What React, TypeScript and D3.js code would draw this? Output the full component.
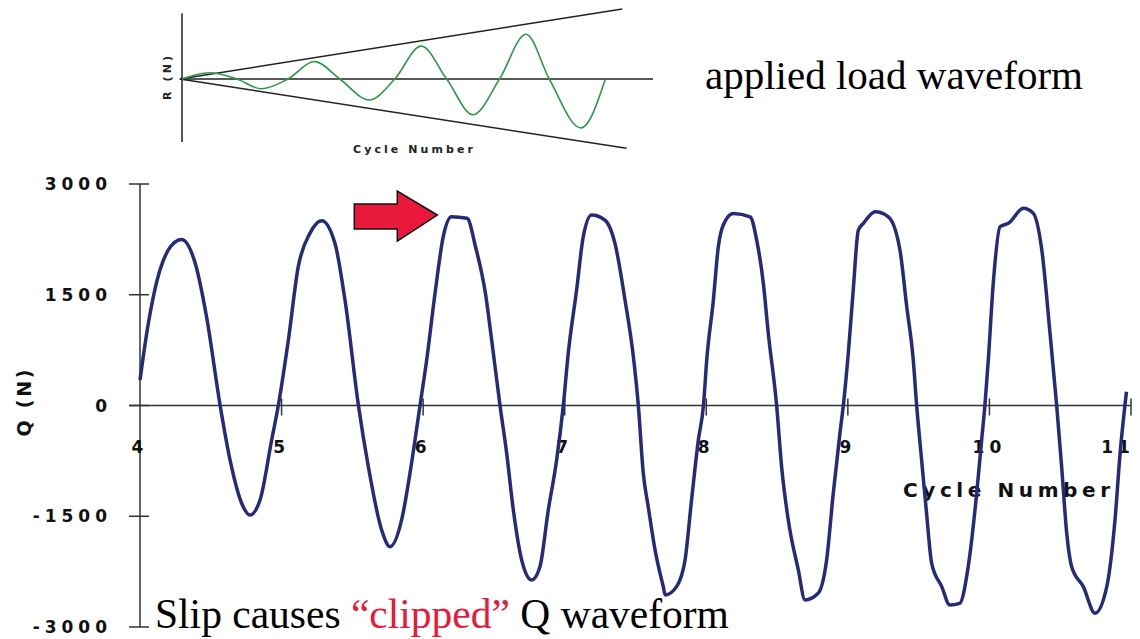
import React from "react";
import { scaleLinear, line, curveMonotoneX } from "d3";

// main Q waveform (cycle number, Q in N)
const cycles = [
    4.0, 4.059, 4.141, 4.27, 4.295, 4.39, 4.47, 4.566, 4.636, 4.718, 4.777, 4.848, 4.93, 4.977,
    5.048, 5.118, 5.2, 5.283, 5.377, 5.448, 5.543, 5.613, 5.707, 5.766, 5.848, 5.907, 5.978,
    6.025, 6.084, 6.142, 6.2, 6.31, 6.37, 6.44, 6.484, 6.543, 6.59, 6.637, 6.696, 6.767, 6.825, 6.884, 6.943, 6.99,
    7.025, 7.084, 7.131, 7.19, 7.284, 7.355, 7.426, 7.485, 7.52, 7.555, 7.59, 7.638, 7.696, 7.71, 7.79, 7.85, 7.896, 7.944, 7.98,
    8.003, 8.05, 8.085, 8.12, 8.19, 8.31, 8.356, 8.403, 8.438, 8.497, 8.532, 8.579, 8.65, 8.697, 8.79, 8.85, 8.897, 8.944, 8.968,
    9.003, 9.038, 9.074, 9.11, 9.193, 9.286, 9.368, 9.416, 9.462, 9.486, 9.521, 9.556, 9.592, 9.663, 9.72, 9.79, 9.85, 9.91, 9.945, 9.968,
    9.992, 10.027, 10.075, 10.134, 10.24, 10.31, 10.37, 10.428, 10.475, 10.51, 10.546, 10.581, 10.663, 10.746, 10.829, 10.887, 10.923, 10.957, 10.968
]
const qValues = [
    345, 1113, 1835, 2240, 2250, 1925, 1202, 0, -738, -1324, -1483, -1280, -467, 0,
    887, 1880, 2331, 2502, 2196, 1428, 0, -829, -1686, -1912, -1550, -918, 0,
    616, 1519, 2286, 2556, 2535, 2150, 1519, 887, 0, -647, -1415, -2092, -2363, -2183, -1415, -738, 0,
    707, 1564, 2286, 2580, 2512, 2196, 1428, 660, 0, -918, -1370, -1956, -2453, -2566, -2453, -2092, -1280, -467, 0,
    616, 1428, 2150, 2444, 2602, 2556, 2241, 1655, 977, 0, -829, -1550, -2227, -2633, -2543, -2092, -1189, -376, 0,
    707, 1564, 2376, 2467, 2624, 2556, 2106, 1338, 616, 0, -738, -1460, -2137, -2453, -2701, -2679, -2183, -1189, -467, 0,
    616, 1655, 2421, 2467, 2670, 2602, 2106, 977, 0, -829, -1730, -2183, -2453, -2813, -2453, -1550, -647, 0, 187
]

const yTicks = [3000, 1500, 0, -1500, -3000]
const xTicks = [4, 5, 6, 7, 8, 9, 10, 11]

// inset: applied load waveform (arbitrary units)
const insetCycles = [0, 0.26, 0.52, 0.75, 1.0, 1.25, 1.49, 1.77, 2.01, 2.26, 2.5, 2.75, 3.0, 3.25, 3.47, 3.77, 4.0]
const insetLoad = [0, 0.09, 0, -0.14, 0, 0.25, 0, -0.3, 0, 0.47, 0, -0.51, 0, 0.64, 0, -0.7, 0]
const envelopeUpper = [[-0.02, 0], [4.16, 1.0]]
const envelopeLower = [[-0.02, 0], [4.2, -0.99]]

// arrow annotation tip
const arrowTip = { cycle: 6.1, q: 2580 }

const App = () => {
    const width = 1140
    const height = 639
    const axisColor = "#333"
    const bold = "'DejaVu Sans', Verdana, sans-serif"
    const serif = "'Liberation Serif', 'Times New Roman', serif"

    const x = scaleLinear().domain([4, 11]).range([140, 1131])
    const y = scaleLinear().domain([-3000, 3000]).range([627, 184])

    const ix = scaleLinear().domain([0, 4.45]).range([182, 653])
    const iy = scaleLinear().domain([-1, 1]).range([149, 9])

    const qLine = line<number>()
        .x((d, i) => x(cycles[i]))
        .y(d => y(d))
        .curve(curveMonotoneX)

    const insetLine = line<number>()
        .x((d, i) => ix(insetCycles[i]))
        .y(d => iy(d))
        .curve(curveMonotoneX)

    const ax = x(arrowTip.cycle)
    const ay = y(arrowTip.q)
    const arrowPts = [
        [ax, ay], [ax - 40, ay - 24], [ax - 40, ay - 11], [ax - 83, ay - 11],
        [ax - 83, ay + 14], [ax - 40, ay + 14], [ax - 40, ay + 26]
    ].map(p => p.join(",")).join(" ")

    return (
        <svg width={width} height={height} style={{ position: "absolute", left: 0, top: 0, background: "#fff" }}>
            {/* inset */}
            <g>
                <line x1={ix(0)} x2={ix(0)} y1={iy(0.94)} y2={iy(-0.9)} stroke="#222" strokeWidth={1.5} />
                <line x1={ix(-0.02)} x2={ix(4.45)} y1={iy(0)} y2={iy(0)} stroke="#222" strokeWidth={1.5} />
                {[envelopeUpper, envelopeLower].map((e, i) => (
                    <line key={i} x1={ix(e[0][0])} y1={iy(e[0][1])} x2={ix(e[1][0])} y2={iy(e[1][1])} stroke="#222" strokeWidth={1.5} />
                ))}
                <path d={insetLine(insetLoad) || ""} fill="none" stroke="#2a9a48" strokeWidth={1.6} />
                <text transform="translate(171, 78) rotate(-90)" textAnchor="middle" fontFamily={bold} fontWeight="bold"
                    fontSize={11} textLength={44} lengthAdjust="spacing" fill="#222">R (N)</text>
                <text x={353} y={153} fontFamily={bold} fontWeight="bold" fontSize={11} textLength={120}
                    lengthAdjust="spacing" fill="#222">Cycle Number</text>
                <text x={705} y={89} fontFamily={serif} fontSize={41} fill="#000">applied load waveform</text>
            </g>

            {/* main axes */}
            <line x1={x(4)} x2={x(4)} y1={y(3000)} y2={y(-3000)} stroke={axisColor} strokeWidth={1.5} />
            <line x1={x(4) - 11} x2={x(11)} y1={y(0)} y2={y(0)} stroke={axisColor} strokeWidth={1.5} />
            {yTicks.map((t, i) => (
                <g key={i} transform={`translate(0, ${y(t)})`}>
                    <line x1={x(4) - 11} x2={x(4) + 9} stroke={axisColor} strokeWidth={1.5} />
                    <text x={112} dy="0.36em" textAnchor="end" fontFamily={bold} fontWeight="bold" fontSize={17}
                        letterSpacing={5} fill="#111">{t}</text>
                </g>
            ))}
            {xTicks.map((t, i) => (
                <g key={i} transform={`translate(${x(t)}, 0)`}>
                    {t > 4 && <line y1={y(0) - 7} y2={y(0) + 10} stroke={axisColor} strokeWidth={1.5} />}
                    <text x={Math.min(0, width - 22 - x(t))} y={453} textAnchor="middle" fontFamily={bold} fontWeight="bold" fontSize={17}
                        letterSpacing={5} fill="#111">{t}</text>
                </g>
            ))}
            <text transform="translate(31, 403) rotate(-90)" textAnchor="middle" fontFamily={bold} fontWeight="bold"
                fontSize={19} textLength={67} lengthAdjust="spacing" fill="#111">Q (N)</text>
            <text x={903} y={497} fontFamily={bold} fontWeight="bold" fontSize={20} textLength={207}
                lengthAdjust="spacing" fill="#111">Cycle Number</text>

            {/* waveform */}
            <path d={qLine(qValues) || ""} fill="none" stroke="#262a7a" strokeWidth={3.5} strokeLinejoin="round" />

            {/* arrow */}
            <polygon points={arrowPts} fill="#e8193a" stroke="#111" strokeWidth={1.5} />

            <text x={155} y={628} fontFamily={serif} fontSize={41.5} fill="#000">
                Slip causes <tspan fill="#e8193a">“clipped”</tspan> Q waveform
            </text>
        </svg>
    )
}

export default App
